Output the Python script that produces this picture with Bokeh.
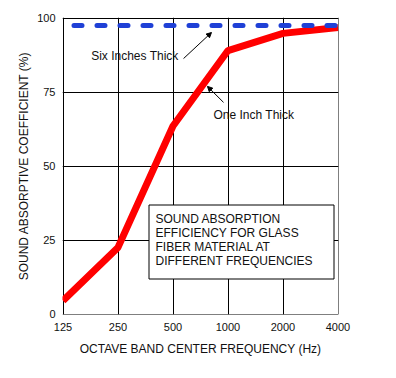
from bokeh.plotting import figure
from bokeh.models import (Range1d, FixedTicker, PrintfTickFormatter,
                          Label, Arrow, NormalHead)
from bokeh.embed import file_html
from bokeh.resources import INLINE

# Data
frequencies = [125, 250, 500, 1000, 2000, 4000]
one_inch = [4.5, 22.5, 63.5, 89, 94.8, 96.8]
six_inches = [97.5, 97.5, 97.5, 97.5, 97.5, 97.5]
x_ticks = [125, 250, 500, 1000, 2000, 4000]
y_ticks = [0, 25, 50, 75, 100]
box_lines = ["SOUND ABSORPTION", "EFFICIENCY FOR GLASS", "FIBER MATERIAL AT", "DIFFERENT FREQUENCIES"]

FONT = "Liberation Sans"

# frame: 276 x 297 px; ranges padded by half a pixel so 1px grid lines are crisp
PX_OCT = 55.0
PX_Y = 296.0 / 100.0
x_start = 125 * 2 ** (-0.5 / PX_OCT)
x_end = 4000 * 2 ** (0.5 / PX_OCT)
y_start = -0.5 / PX_Y
y_end = 100 + 0.5 / PX_Y

p = figure(width=396, height=378, output_backend="svg", toolbar_location=None,
           x_axis_type="log", x_range=Range1d(x_start, x_end), y_range=Range1d(y_start, y_end),
           min_border_left=62, min_border_right=58, min_border_top=17, min_border_bottom=64)

p.outline_line_color = None
p.background_fill_color = "white"
p.border_fill_color = "white"

for g in (p.xgrid, p.ygrid):
    g.grid_line_color = "black"
    g.grid_line_width = 1
    g.grid_line_alpha = 1.0

p.xaxis.ticker = FixedTicker(ticks=x_ticks)
p.xaxis.formatter = PrintfTickFormatter(format="%d")
p.xgrid.ticker = FixedTicker(ticks=x_ticks)
p.yaxis.ticker = FixedTicker(ticks=y_ticks)
p.ygrid.ticker = FixedTicker(ticks=y_ticks)
p.xaxis.minor_tick_line_color = None
p.yaxis.minor_tick_line_color = None

for ax in (p.xaxis, p.yaxis):
    ax.axis_line_color = None
    ax.major_tick_line_color = None
    ax.major_tick_in = 0
    ax.major_tick_out = 0
    ax.major_label_text_font = FONT
    ax.major_label_text_font_size = "11px"
    ax.major_label_text_color = "#111111"
    ax.axis_label_text_font = FONT
    ax.axis_label_text_font_size = "12px"
    ax.axis_label_text_font_style = "normal"
    ax.axis_label_text_color = "#111111"

p.xaxis.major_label_standoff = 8
p.yaxis.major_label_standoff = 7
p.xaxis.axis_label = "OCTAVE BAND CENTER FREQUENCY (Hz)"
p.yaxis.axis_label = "SOUND ABSORPTIVE COEFFICIENT (%)"
p.xaxis.axis_label_standoff = 8
p.yaxis.axis_label_standoff = 3

# Series
p.line(frequencies, one_inch, line_color="#ff0000", line_width=7)
p.line(frequencies, six_inches, line_color="#1f40d6", line_width=5,
       line_dash="8 15", line_dash_offset=12, line_cap="round")

# Text box (drawn above the grid, below the labels)
p.quad(left=[369.5], right=[3804], bottom=[11.82], top=[36.82],
       fill_color="white", fill_alpha=1.0, line_color="black", line_width=1)
for txt, yy in zip(box_lines, [32.09, 27.2, 22.47, 17.74]):
    p.add_layout(Label(x=401, y=yy, text=txt, text_font=FONT, text_font_size="12px",
                       text_baseline="middle", text_align="left", text_color="#111111"))

# Annotations
p.add_layout(Label(x=536, y=87.0, text="Six Inches Thick", text_font=FONT,
                   text_font_size="12px", text_baseline="middle", text_align="right",
                   text_color="#111111"))
p.add_layout(Arrow(end=NormalHead(size=5, fill_color="black", line_color="black"),
                   x_start=571, y_start=86.3, x_end=812, y_end=95.1,
                   line_color="black", line_width=1))
p.add_layout(Label(x=833, y=67.1, text="One Inch Thick", text_font=FONT,
                   text_font_size="12px", text_baseline="middle", text_align="left",
                   text_color="#111111"))
p.add_layout(Arrow(end=NormalHead(size=5, fill_color="black", line_color="black"),
                   x_start=945, y_start=71.5, x_end=772, y_end=76.9,
                   line_color="black", line_width=1))

open("out.html", "w").write(file_html(p, INLINE))
